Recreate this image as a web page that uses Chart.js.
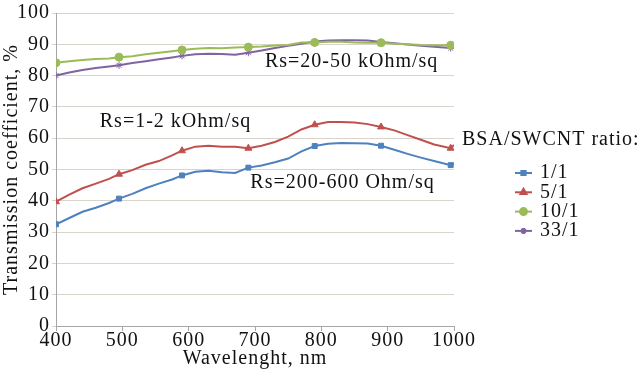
<html>
<head>
  <meta charset="UTF-8">
  <title>Transmission vs wavelength</title>
  <script src="https://cdn.jsdelivr.net/npm/chart.js"></script>
  <style>
    body { margin: 0; background: #fff; }
    #wrap { width: 640px; height: 374px; }
  </style>
</head>
<body>
  <div id="wrap"><canvas id="chart"></canvas></div>

  <script>
    // --- Data ---
    const wavelengths = [400, 420, 440, 460, 480, 495, 515, 535, 555, 575, 590, 610, 630, 650, 670, 690,
                         710, 730, 750, 770, 790, 810, 830, 850, 870, 890, 910, 930, 950, 970, 995, 1000];
    const ratio1  = [32.5, 34.5, 36.5, 37.8, 39.3, 40.7, 42.2, 44.0, 45.5, 46.8, 48.1, 49.3, 49.6, 49.1, 48.9, 50.6,
                     51.3, 52.3, 53.5, 55.8, 57.5, 58.2, 58.5, 58.4, 58.3, 57.6, 56.3, 55.0, 53.8, 52.7, 51.4, 52.0];
    const ratio5  = [39.7, 42.0, 44.0, 45.5, 47.0, 48.5, 49.8, 51.5, 52.7, 54.5, 56.0, 57.3, 57.6, 57.3, 57.3, 56.8,
                     57.6, 58.8, 60.5, 62.8, 64.3, 65.2, 65.2, 65.0, 64.5, 63.6, 62.5, 61.0, 59.5, 58.0, 56.8, 57.8];
    const ratio10 = [84.1, 84.6, 85.0, 85.3, 85.5, 85.9, 86.2, 86.8, 87.3, 87.8, 88.2, 88.6, 88.8, 88.7, 89.0, 89.1,
                     89.3, 89.6, 89.8, 90.6, 90.6, 90.8, 90.8, 90.6, 90.5, 90.5, 90.2, 90.0, 89.8, 89.7, 89.7, 89.8];
    const ratio33 = [80.0, 81.0, 81.8, 82.4, 82.9, 83.3, 84.0, 84.6, 85.2, 85.8, 86.3, 86.8, 87.0, 86.9, 86.7, 87.3,
                     88.0, 88.8, 89.5, 90.2, 90.9, 91.2, 91.3, 91.3, 91.2, 90.7, 90.3, 89.9, 89.5, 89.2, 88.8, 88.8];
    const seriesNames = ['1/1', '5/1', '10/1', '33/1'];
    const markerIdx = [0, 5, 10, 15, 20, 25, 30];
    const notes = [
      { text: 'Rs=20-50 kOhm/sq', x: 715, y: 84.3 },
      { text: 'Rs=1-2 kOhm/sq', x: 466, y: 65.2 },
      { text: 'Rs=200-600 Ohm/sq', x: 693, y: 45.7 }
    ];
    const legendTitle = 'BSA/SWCNT ratio:';

    const FONT = '"Liberation Serif", "Times New Roman", serif';
    const colors = ['#4f81bd', '#c0504d', '#9bbb59', '#8064a2'];
    const styles = ['rect', 'triangle', 'circle', 'star'];
    const radii  = [3.5, 4, 4, 3.5];

    function toPoints(vals) { return vals.map((v, i) => ({ x: wavelengths[i], y: v })); }

    const datasets = [ratio1, ratio5, ratio10, ratio33].map((vals, k) => ({
      label: seriesNames[k],
      data: toPoints(vals),
      borderColor: colors[k],
      backgroundColor: colors[k],
      borderWidth: 2,
      pointStyle: styles[k],
      pointRadius: c => markerIdx.includes(c.dataIndex) ? radii[k] : 0,
      pointBorderWidth: 1,
      tension: 0
    }));

    // the reference text is slightly letter-spaced
    const spacing = {
      id: 'spacing',
      beforeLayout(chart) { chart.ctx.letterSpacing = '1px'; },
      beforeDraw(chart) { chart.ctx.letterSpacing = '1px'; }
    };

    // --- Notes and legend drawn on top ---
    const extras = {
      id: 'extras',
      afterDraw(chart) {
        const { ctx, chartArea, scales } = chart;
        ctx.save();
        ctx.letterSpacing = '1px';
        ctx.fillStyle = '#111';
        ctx.font = '20px ' + FONT;
        ctx.textBaseline = 'middle';
        ctx.textAlign = 'left';
        notes.forEach(n => ctx.fillText(n.text, scales.x.getPixelForValue(n.x), scales.y.getPixelForValue(n.y)));

        // legend
        const lx = chartArea.right + 8;
        ctx.fillText(legendTitle, lx, chartArea.top + 127);
        chart.data.datasets.forEach((ds, k) => {
          const y = chartArea.top + 160 + k * 19.3;
          const x0 = lx + 53;
          ctx.strokeStyle = ds.borderColor;
          ctx.lineWidth = 2;
          ctx.beginPath(); ctx.moveTo(x0, y); ctx.lineTo(x0 + 17, y); ctx.stroke();
          ctx.fillStyle = ds.backgroundColor;
          Chart.helpers.drawPoint(ctx, { pointStyle: ds.pointStyle, radius: radii[k] - 0.5, rotation: 0, borderWidth: 1 }, x0 + 8.5, y);
          ctx.fillStyle = '#111';
          ctx.fillText(ds.label, x0 + 25, y);
        });
        ctx.restore();
      }
    };

    new Chart(document.getElementById('chart'), {
      type: 'line',
      data: { datasets },
      options: {
        responsive: true,
        maintainAspectRatio: false,
        animation: false,
        layout: { padding: { top: 13, right: 186, left: 0, bottom: 5 } },
        plugins: { legend: { display: false }, tooltip: { enabled: false } },
        scales: {
          x: {
            type: 'linear', min: 400, max: 1000,
            ticks: { stepSize: 100, color: '#111', font: { family: FONT, size: 20, lineHeight: 1 }, padding: 0, maxRotation: 0,
                     callback: v => String(v) },
            grid: { drawOnChartArea: false, drawTicks: true, tickLength: 5, color: '#a6a6a6' },
            border: { color: '#a6a6a6', width: 1 },
            title: { display: true, text: 'Wavelenght, nm', color: '#111', font: { family: FONT, size: 20, lineHeight: 1 }, padding: { top: -2, bottom: 0 } }
          },
          y: {
            min: 0, max: 100,
            ticks: { stepSize: 10, color: '#111', font: { family: FONT, size: 20, lineHeight: 1 }, padding: 2 },
            grid: { color: '#d9d4cb', tickLength: 4 },
            border: { color: '#a6a6a6', width: 1 },
            title: { display: true, text: 'Transmission coefficient, %', color: '#111', font: { family: FONT, size: 20, lineHeight: 1 }, padding: { top: 2, bottom: -7 } }
          }
        }
      },
      plugins: [spacing, extras]
    });
  </script>
</body>
</html>
